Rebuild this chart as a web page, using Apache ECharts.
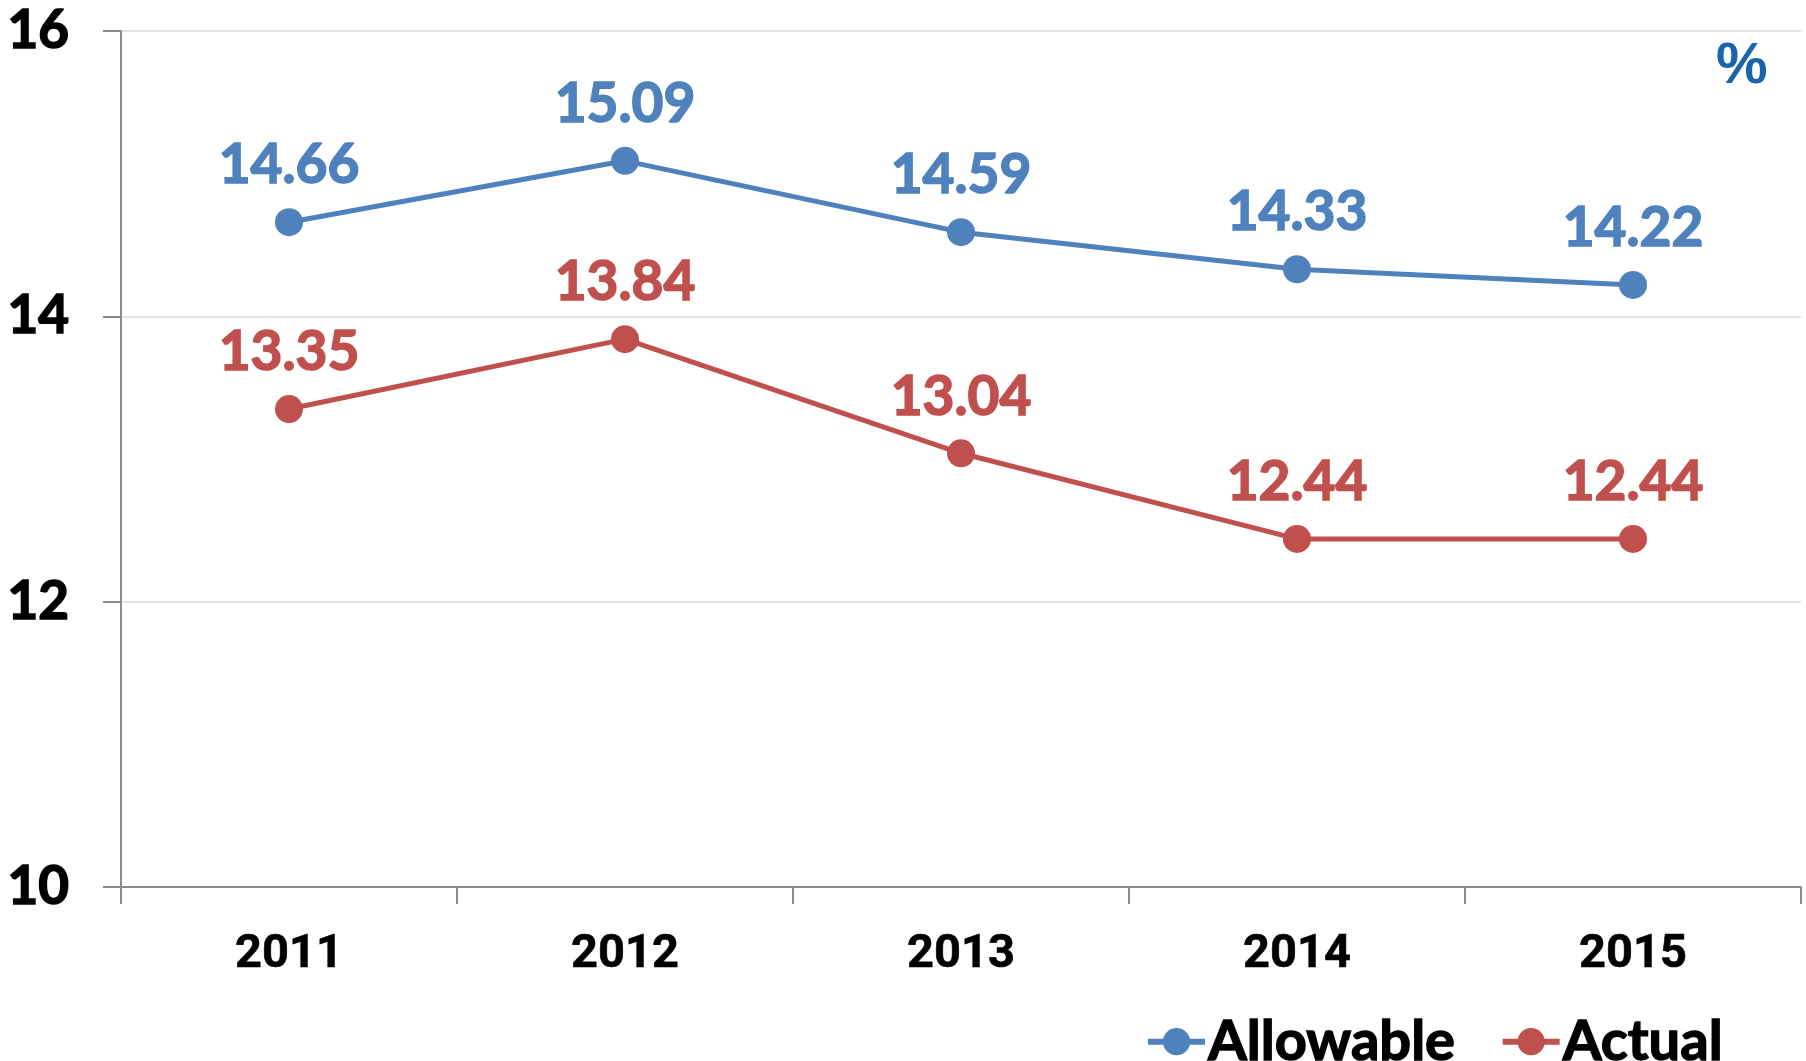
<!DOCTYPE html>
<html>
<head>
<meta charset="utf-8">
<script src="https://cdn.jsdelivr.net/npm/echarts@6/dist/echarts.min.js"></script>
<style>html,body{margin:0;padding:0;background:#fff;}#c{width:1806px;height:1061px;}</style>
</head>
<body>
<div id="c"></div>
<script>
const categories = ['2011', '2012', '2013', '2014', '2015'];
const allowable = [14.66, 15.09, 14.59, 14.33, 14.22];
const actual = [13.35, 13.84, 13.04, 12.44, 12.44];
const yTicks = [10, 12, 14, 16];
const unitLabel = '%';

const chart = echarts.init(document.getElementById('c'));
const labelFont = 'Lato, "Open Sans", sans-serif';
function series(name, data, color) {
  return {
    name: name, type: 'line', data: data,
    symbol: 'circle', symbolSize: 28,
    lineStyle: { color: color, width: 5 },
    itemStyle: { color: color },
    label: {
      show: true, position: 'top', distance: 15,
      color: color, fontFamily: labelFont, fontWeight: 'bold', fontSize: 55,
      textBorderColor: color, textBorderWidth: 1.6,
      formatter: p => p.value.toFixed(2)
    },
    emphasis: { disabled: true },
    animation: false
  };
}
chart.setOption({
  animation: false,
  grid: { left: 121, right: 5, top: 31, bottom: 174, containLabel: false },
  legend: {
    left: 1140, top: 1008, itemWidth: 57, itemHeight: 34, itemGap: 44,
    lineStyle: { width: 6 },
    textStyle: { fontFamily: labelFont, fontWeight: 'bold', fontSize: 56, color: '#000',
      textBorderColor: '#000', textBorderWidth: 1.4, padding: [0, 0, 0, -2] },
    data: ['Allowable', 'Actual']
  },
  xAxis: {
    type: 'category', data: categories, boundaryGap: true,
    axisLine: { lineStyle: { color: '#8c8c8c', width: 2 } },
    axisTick: { show: true, length: 17, lineStyle: { color: '#8c8c8c', width: 2 } },
    axisLabel: { color: '#000', fontFamily: 'Roboto, sans-serif', fontWeight: 'bold', fontSize: 47, margin: 45,
      textBorderColor: '#000', textBorderWidth: 0.6 }
  },
  yAxis: {
    type: 'value', min: yTicks[0], max: yTicks[yTicks.length - 1], interval: 2,
    axisLine: { show: true, lineStyle: { color: '#8c8c8c', width: 2 } },
    axisTick: { show: true, length: 18, lineStyle: { color: '#8c8c8c', width: 2 } },
    splitLine: { lineStyle: { color: '#e3e3e3', width: 2 } },
    axisLabel: { color: '#000', fontFamily: labelFont, fontWeight: 'bold', fontSize: 53, margin: 52, align: 'right',
      textBorderColor: '#000', textBorderWidth: 1.6 }
  },
  graphic: [{
    type: 'text', left: 1716, top: 38,
    style: { text: unitLabel, fill: '#1a63ad', font: 'bold 58px "Liberation Sans", sans-serif' }
  }],
  series: [series('Allowable', allowable, '#4f81bd'), series('Actual', actual, '#c0504d')]
});
</script>
</body>
</html>
